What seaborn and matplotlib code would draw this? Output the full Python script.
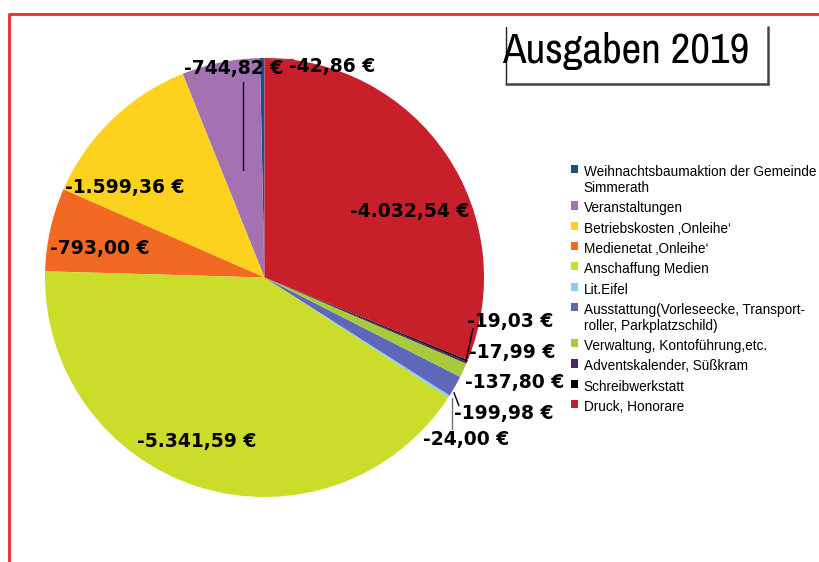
import matplotlib
matplotlib.use("Agg")
import matplotlib.pyplot as plt
from matplotlib import font_manager
from matplotlib.lines import Line2D
import seaborn as sns

# Data (counterclockwise from 12 o'clock, same order as the legend)
categories = [
    "Weihnachtsbaumaktion der Gemeinde\nSimmerath",
    "Veranstaltungen",
    "Betriebskosten \u201aOnleihe\u2018",
    "Medienetat \u201aOnleihe\u2018",
    "Anschaffung Medien",
    "Lit.Eifel",
    "Ausstattung(Vorleseecke, Transport-\nroller, Parkplatzschild)",
    "Verwaltung, Kontoführung,etc.",
    "Adventskalender, Süßkram",
    "Schreibwerkstatt",
    "Druck, Honorare",
]
amounts = [42.86, 744.82, 1599.36, 793.00, 5341.59, 24.00, 199.98, 137.80, 17.99, 19.03, 4032.54]
colors = ["#1d4f8f", "#a472b2", "#fdd21f", "#f26924", "#cbdc2a", "#8fcbee",
          "#5f67b8", "#a8cb3a", "#4b2170", "#000000", "#c8202a"]

# label text positions (pie radius = 1)
label_pos = [(0.31, 0.963), (-0.14, 0.95), (-0.635, 0.41), (-0.75, 0.13), (-0.31, -0.745),
             (0.92, -0.74), (1.09, -0.62), (1.14, -0.48), (1.13, -0.34), (1.12, -0.20), (0.66, 0.30)]


def euro(v):
    s = f"{v:,.2f}".replace(",", "X").replace(".", ",").replace("X", ".")
    return f"-{s} \u20ac"


# pick a narrow font for the title if one is installed
installed = {f.name for f in font_manager.fontManager.ttflist}
narrow = [n for n in ["Liberation Sans Narrow", "Arial Narrow", "Archivo Narrow", "PT Sans Narrow",
                      "Roboto Condensed", "Open Sans Condensed", "Encode Sans Condensed",
                      "DejaVu Sans Condensed"] if n in installed]
title_font = narrow[0] if narrow else "Liberation Sans"
title_size = 31 if narrow else 24.5

sns.set_style("white")
fig = plt.figure(figsize=(8.2, 5.62), dpi=100)
W, H = 820, 562
cx, cy, r = 264.5, 277.5, 219.5
ax = fig.add_axes([(cx - r) / W, (H - cy - r) / H, 2 * r / W, 2 * r / H])

wedges, _ = ax.pie(amounts, colors=colors, startangle=90, counterclock=True,
                   wedgeprops=dict(linewidth=0))
ax.set_xlim(-1, 1)
ax.set_ylim(-1, 1)
ax.axis("off")

for v, (x, y) in zip(amounts, label_pos):
    ax.text(x, y, euro(v), ha="center", va="center", fontsize=13.5, color="black",
            fontweight="bold", family="DejaVu Sans", clip_on=False)

# leader lines
leaders = [((-0.005, 0.995), (0.13, 0.995), "#606060"),
           ((-0.096, 0.89), (-0.096, 0.489), "#000000"),
           ((0.918, -0.379), (0.95, -0.233), "#000000"),
           ((0.863, -0.525), (0.886, -0.584), "#000000"),
           ((0.854, -0.548), (0.854, -0.689), "#707070")]
for (x0, y0), (x1, y1), c in leaders:
    ax.plot([x0, x1], [y0, y1], color=c, lw=1, clip_on=False)

# legend
leg = fig.legend(wedges, categories, loc="upper left", bbox_to_anchor=(571 / W, 1 - 165 / H),
                 frameon=False, prop={"family": "Liberation Sans", "size": 9.8},
                 labelcolor="black", handlelength=0.55, handleheight=0.55, handletextpad=0.4,
                 labelspacing=0.46, borderaxespad=0, borderpad=0)
# keep the colour square next to the first line of two-line entries
for col in leg._legend_handle_box.get_children():
    for row in col.get_children():
        row.align = "top"

# title with box (left, bottom, right edges)
fig.text(626 / W, 1 - 51 / H, "Ausgaben 2019", ha="center", va="center", color="black",
         fontsize=title_size, family=title_font)
fig.add_artist(Line2D([506 / W, 506 / W], [1 - 27 / H, 1 - 84 / H], color="#222222", lw=1))
fig.add_artist(Line2D([506 / W, 768 / W], [1 - 84 / H, 1 - 84 / H], color="#444444", lw=1.8))
fig.add_artist(Line2D([768 / W, 768 / W], [1 - 27 / H, 1 - 84 / H], color="#444444", lw=1.8))

# red frame
fig.add_artist(Line2D([9 / W, 9 / W, 1], [0, 1 - 14 / H, 1 - 14 / H], color="#ee2a2f", lw=2))

fig.savefig("out.png", dpi=100)
